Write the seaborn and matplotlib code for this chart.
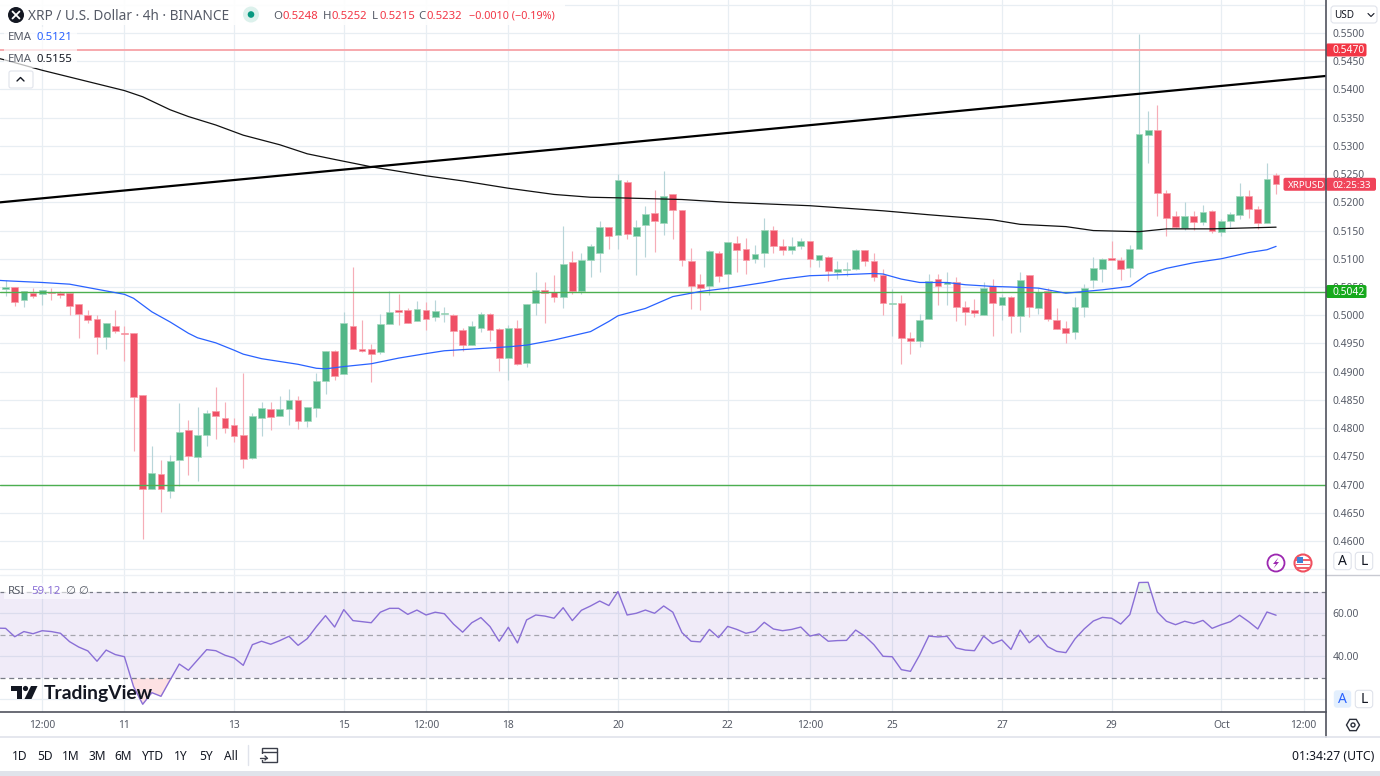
import matplotlib
matplotlib.use("Agg")
import matplotlib.pyplot as plt
import numpy as np
import seaborn as sns
from matplotlib.lines import Line2D
from matplotlib.patches import Circle, FancyBboxPatch, Polygon, Rectangle

# 4h candles
opens = [
    0.5046, 0.5050, 0.5027, 0.5040, 0.5038, 0.5042, 0.5040, 0.5039, 0.5020, 0.5000,
    0.4994, 0.4962, 0.4981, 0.4969, 0.4968, 0.4858, 0.4692, 0.4719, 0.4689, 0.4743,
    0.4796, 0.4749, 0.4788, 0.4830, 0.4818, 0.4805, 0.4788, 0.4747, 0.4817, 0.4834,
    0.4822, 0.4833, 0.4850, 0.4813, 0.4836, 0.4883, 0.4936, 0.4896, 0.4981, 0.4940,
    0.4940, 0.4934, 0.4985, 0.5010, 0.5009, 0.4990, 0.5009, 0.4996, 0.5003, 0.5000,
    0.4974, 0.4947, 0.4977, 0.5002, 0.4976, 0.4925, 0.4978, 0.4915, 0.5022, 0.5045,
    0.5042, 0.5033, 0.5094, 0.5043, 0.5098, 0.5110, 0.5156, 0.5142, 0.5236, 0.5140,
    0.5160, 0.5181, 0.5164, 0.5215, 0.5187, 0.5096, 0.5055, 0.5052, 0.5110, 0.5073,
    0.5128, 0.5117, 0.5100, 0.5110, 0.5151, 0.5123, 0.5115, 0.5123, 0.5132, 0.5097,
    0.5104, 0.5077, 0.5080, 0.5081, 0.5115, 0.5096, 0.5072, 0.5019, 0.5021, 0.4960,
    0.4954, 0.4994, 0.5065, 0.5055, 0.5058, 0.5015, 0.5009, 0.5001, 0.5052, 0.5018,
    0.5032, 0.4999, 0.5071, 0.5012, 0.5043, 0.4991, 0.4977, 0.4970, 0.5014, 0.5062,
    0.5082, 0.5101, 0.5097, 0.5084, 0.5117, 0.5320, 0.5328, 0.5217, 0.5175, 0.5154,
    0.5175, 0.5166, 0.5185, 0.5148, 0.5167, 0.5178, 0.5212, 0.5189, 0.5164, 0.5248,
]
highs = [
    0.5063, 0.5050, 0.5043, 0.5048, 0.5045, 0.5048, 0.5043, 0.5039, 0.5020, 0.5009,
    0.5000, 0.4986, 0.5009, 0.4981, 0.4968, 0.4858, 0.4769, 0.4743, 0.4752, 0.4844,
    0.4814, 0.4838, 0.4832, 0.4873, 0.4847, 0.4817, 0.4897, 0.4826, 0.4846, 0.4847,
    0.4856, 0.4869, 0.4856, 0.4838, 0.4897, 0.4936, 0.4939, 0.5006, 0.5086, 0.4992,
    0.4949, 0.5002, 0.5043, 0.5038, 0.5012, 0.5025, 0.5023, 0.5027, 0.5015, 0.5002,
    0.4978, 0.4990, 0.5005, 0.5004, 0.4978, 0.4983, 0.4992, 0.5019, 0.5076, 0.5058,
    0.5071, 0.5158, 0.5114, 0.5110, 0.5127, 0.5167, 0.5156, 0.5251, 0.5240, 0.5168,
    0.5194, 0.5222, 0.5256, 0.5215, 0.5187, 0.5119, 0.5073, 0.5116, 0.5113, 0.5130,
    0.5140, 0.5136, 0.5125, 0.5172, 0.5158, 0.5135, 0.5139, 0.5136, 0.5132, 0.5106,
    0.5105, 0.5096, 0.5095, 0.5117, 0.5115, 0.5110, 0.5081, 0.5046, 0.5035, 0.4970,
    0.5002, 0.5073, 0.5073, 0.5076, 0.5067, 0.5025, 0.5029, 0.5058, 0.5064, 0.5038,
    0.5034, 0.5076, 0.5071, 0.5048, 0.5048, 0.5012, 0.4990, 0.5032, 0.5056, 0.5104,
    0.5102, 0.5132, 0.5104, 0.5124, 0.5498, 0.5362, 0.5372, 0.5222, 0.5185, 0.5201,
    0.5185, 0.5195, 0.5186, 0.5170, 0.5183, 0.5234, 0.5222, 0.5193, 0.5270, 0.5252,
]
lows = [
    0.5034, 0.5016, 0.5015, 0.5031, 0.5018, 0.5027, 0.5031, 0.5000, 0.4959, 0.4987,
    0.4931, 0.4941, 0.4969, 0.4919, 0.4759, 0.4604, 0.4692, 0.4651, 0.4677, 0.4698,
    0.4716, 0.4706, 0.4769, 0.4781, 0.4791, 0.4776, 0.4730, 0.4746, 0.4786, 0.4797,
    0.4822, 0.4805, 0.4799, 0.4802, 0.4819, 0.4860, 0.4885, 0.4896, 0.4940, 0.4935,
    0.4882, 0.4932, 0.4985, 0.4983, 0.4986, 0.4990, 0.4973, 0.4990, 0.4988, 0.4928,
    0.4937, 0.4947, 0.4970, 0.4954, 0.4902, 0.4886, 0.4911, 0.4909, 0.5000, 0.4987,
    0.5023, 0.5012, 0.5038, 0.5037, 0.5067, 0.5077, 0.5117, 0.5117, 0.5135, 0.5071,
    0.5104, 0.5112, 0.5142, 0.5135, 0.5087, 0.5011, 0.5009, 0.5035, 0.5059, 0.5045,
    0.5076, 0.5073, 0.5092, 0.5086, 0.5111, 0.5106, 0.5109, 0.5117, 0.5086, 0.5086,
    0.5061, 0.5065, 0.5070, 0.5080, 0.5087, 0.5060, 0.5000, 0.4964, 0.4914, 0.4932,
    0.4943, 0.4994, 0.5018, 0.5018, 0.4990, 0.4983, 0.4996, 0.5001, 0.4964, 0.4992,
    0.4968, 0.4970, 0.4996, 0.5002, 0.4989, 0.4976, 0.4950, 0.4958, 0.4996, 0.5049,
    0.5058, 0.5097, 0.5062, 0.5068, 0.5117, 0.5270, 0.5176, 0.5140, 0.5154, 0.5151,
    0.5151, 0.5160, 0.5146, 0.5140, 0.5157, 0.5170, 0.5173, 0.5152, 0.5164, 0.5215,
]
closes = [
    0.5050, 0.5024, 0.5043, 0.5034, 0.5045, 0.5040, 0.5036, 0.5017, 0.5002, 0.4991,
    0.4962, 0.4986, 0.4972, 0.4967, 0.4855, 0.4692, 0.4720, 0.4692, 0.4741, 0.4793,
    0.4750, 0.4788, 0.4827, 0.4822, 0.4800, 0.4786, 0.4746, 0.4821, 0.4835, 0.4820,
    0.4834, 0.4850, 0.4813, 0.4838, 0.4883, 0.4936, 0.4893, 0.4986, 0.4941, 0.4937,
    0.4932, 0.4984, 0.5006, 0.5006, 0.4987, 0.5011, 0.4994, 0.5007, 0.5004, 0.4972,
    0.4948, 0.4981, 0.5002, 0.4974, 0.4925, 0.4977, 0.4914, 0.5019, 0.5045, 0.5040,
    0.5033, 0.5091, 0.5043, 0.5097, 0.5123, 0.5156, 0.5140, 0.5239, 0.5144, 0.5157,
    0.5180, 0.5167, 0.5212, 0.5186, 0.5097, 0.5052, 0.5049, 0.5114, 0.5070, 0.5130,
    0.5115, 0.5097, 0.5109, 0.5151, 0.5123, 0.5116, 0.5122, 0.5132, 0.5099, 0.5106,
    0.5078, 0.5081, 0.5082, 0.5115, 0.5096, 0.5068, 0.5021, 0.5021, 0.4960, 0.4954,
    0.4992, 0.5060, 0.5052, 0.5058, 0.5014, 0.5006, 0.5004, 0.5048, 0.5021, 0.5032,
    0.4999, 0.5062, 0.5014, 0.5042, 0.4994, 0.4976, 0.4969, 0.5014, 0.5049, 0.5084,
    0.5100, 0.5097, 0.5081, 0.5118, 0.5321, 0.5328, 0.5217, 0.5172, 0.5157, 0.5175,
    0.5166, 0.5182, 0.5149, 0.5167, 0.5180, 0.5212, 0.5189, 0.5164, 0.5242, 0.5232,
]

# EMA lines, read at the bars where they bend
ema50_bars = [-1, 0, 4, 7, 10, 13, 14, 16, 18, 20, 21, 23, 25, 26, 28, 30, 32, 34, 35, 37, 40, 43,
              46, 48, 52, 55, 57, 60, 64, 66, 67, 70, 73, 76, 79, 83, 85, 88, 92, 95, 96, 98,
              100, 103, 105, 108, 110, 113, 115, 116, 118, 120, 123, 125, 127, 130, 133, 136,
              138, 139]
ema50_vals = [0.5062, 0.5061, 0.5058, 0.5055, 0.5046, 0.5037, 0.5030, 0.5006, 0.4988, 0.4968, 0.4960,
              0.4951, 0.4938, 0.4931, 0.4923, 0.4918, 0.4913, 0.4906, 0.4905, 0.4909, 0.4914,
              0.4924, 0.4932, 0.4937, 0.4941, 0.4944, 0.4947, 0.4956, 0.4971, 0.4989, 0.4999,
              0.5012, 0.5033, 0.5042, 0.5048, 0.5058, 0.5064, 0.5070, 0.5072, 0.5074, 0.5073,
              0.5064, 0.5058, 0.5058, 0.5054, 0.5051, 0.5050, 0.5048, 0.5042, 0.5039, 0.5042,
              0.5045, 0.5051, 0.5073, 0.5083, 0.5093, 0.5100, 0.5111, 0.5116, 0.5122]
ema200_bars = [-1, 0, 4, 8, 13, 15, 18, 20, 23, 26, 30, 33, 36, 40, 46, 50, 55, 60, 64, 67, 74, 79, 88,
               96, 101, 108, 111, 116, 119, 124, 127, 132, 139]
ema200_vals = [0.5456, 0.5452, 0.5434, 0.5418, 0.5398, 0.5387, 0.5364, 0.5352, 0.5337, 0.5319,
               0.5302, 0.5286, 0.5276, 0.5263, 0.5247, 0.5238, 0.5225, 0.5214, 0.5209, 0.5208,
               0.5205, 0.5200, 0.5194, 0.5185, 0.5178, 0.5169, 0.5161, 0.5157, 0.5150, 0.5148,
               0.5153, 0.5153, 0.5156]

# RSI, one value per bar, first one is the bar just left of the pane
rsi_vals = [
    53.1,
    53.0, 49.1, 51.5, 50.5, 51.9, 51.5, 50.7, 46.8, 44.3, 42.5, 37.7, 42.9, 40.8, 39.8, 25.9,
    17.7, 23.1, 21.4, 29.0, 36.4, 33.5, 38.3, 43.1, 42.6, 40.5, 39.2, 35.8, 45.4, 47.0, 45.6,
    47.3, 49.3, 45.1, 48.2, 53.8, 58.9, 53.6, 61.7, 56.6, 56.1, 55.6, 60.5, 62.3, 62.3, 59.5,
    61.5, 59.2, 60.5, 59.8, 55.0, 51.2, 55.6, 58.0, 53.8, 47.0, 53.5, 46.2, 56.9, 59.2, 58.7,
    57.7, 62.6, 56.6, 61.4, 63.4, 65.7, 63.6, 70.1, 59.2, 60.0, 61.5, 60.0, 63.4, 60.5, 51.0,
    47.0, 46.7, 52.5, 48.7, 53.9, 52.5, 50.7, 51.6, 55.8, 52.7, 51.9, 52.5, 53.6, 49.4, 50.4,
    47.0, 47.3, 47.4, 52.2, 49.4, 45.4, 40.0, 39.8, 33.8, 33.0, 40.6, 49.4, 49.0, 49.3, 43.9,
    42.9, 42.6, 49.4, 45.9, 47.6, 43.2, 52.2, 46.3, 49.8, 44.5, 42.3, 41.7, 48.1, 52.7, 56.4,
    58.1, 57.7, 55.0, 59.4, 74.3, 74.4, 60.6, 56.3, 54.7, 56.3, 55.2, 56.7, 53.0, 54.7, 56.1,
    59.1, 56.1, 52.7, 60.6, 59.1,
]

# the rising trend line and the horizontal levels
trend_bars = [-0.6, 144.5]
trend_vals = [0.5200, 0.5424]
resistance_level = 0.5470
pivot_level = 0.5042
support_level = 0.4700

time_tick_bars = [4, 13, 25, 37, 46, 55, 67, 79, 88, 97, 109, 121, 133, 142]
time_tick_labels = ["12:00", "11", "13", "15", "12:00", "18", "20", "22", "12:00", "25", "27",
                    "29", "Oct", "12:00"]
price_ticks = [0.455, 0.46, 0.465, 0.47, 0.475, 0.48, 0.485, 0.49, 0.495, 0.50, 0.505, 0.51,
               0.515, 0.52, 0.525, 0.53, 0.535, 0.54, 0.545, 0.55, 0.555]
rsi_ticks = [20, 40, 60]
range_buttons = ["1D", "5D", "1M", "3M", "6M", "YTD", "1Y", "5Y", "All"]

RED = "#ef5066"
GREEN = "#52b788"
GRID = "#e8eef3"
TEXT = "#555a66"
DARK = "#131722"
AXIS_SIZE = 7.4

sns.set_theme(style="white")
plt.rcParams["font.family"] = ["Noto Sans", "DejaVu Sans"]

W, H = 1380, 776
fig = plt.figure(figsize=(W / 100, H / 100), dpi=100, facecolor="white")
ax = fig.add_axes([0, 1 - 575 / H, 1326 / W, 575 / H])
ax_rsi = fig.add_axes([0, 1 - 712 / H, 1326 / W, 137 / H], sharex=ax)

bars = np.arange(len(opens))
o, h, l, c = map(np.array, (opens, highs, lows, closes))
up = c >= o

# candles
ax.vlines(bars[up], l[up], h[up], color="#b8d5d9", lw=0.85, zorder=3)
ax.vlines(bars[~up], l[~up], h[~up], color="#f6adb7", lw=0.85, zorder=3)
ax.bar(bars[up], np.maximum(np.abs(c - o)[up], 0.0001), bottom=np.minimum(o, c)[up], width=0.74,
       color=GREEN, edgecolor="#a4d8be", lw=0.5, zorder=4)
ax.bar(bars[~up], np.maximum(np.abs(c - o)[~up], 0.0001), bottom=np.minimum(o, c)[~up], width=0.74,
       color=RED, edgecolor="#f89ea9", lw=0.5, zorder=4)

# levels and lines
ax.axhline(resistance_level, color="#f7a9ad", lw=1.4, zorder=5)
ax.axhline(pivot_level, color="#4caf50", lw=1.0, zorder=5)
ax.axhline(support_level, color="#4caf50", lw=1.0, zorder=5)
sns.lineplot(x=ema50_bars, y=ema50_vals, ax=ax, color="#2962ff", lw=0.9, zorder=6, errorbar=None)
sns.lineplot(x=ema200_bars, y=ema200_vals, ax=ax, color="#111111", lw=0.9, zorder=6, errorbar=None)
sns.lineplot(x=trend_bars, y=trend_vals, ax=ax, color="#000000", lw=1.6, zorder=6, errorbar=None)

ax.set_xlim(-0.613, 144.46)
ax.set_ylim(0.45397, 0.55585)
ax.yaxis.tick_right()
ax.set_yticks(price_ticks)
ax.set_yticklabels(["" if t in (0.455, 0.555) else f"{t:.4f}" for t in price_ticks],
                   fontsize=AXIS_SIZE, color=TEXT)
ax.set_xticks(time_tick_bars)
ax.tick_params(axis="x", length=0, labelbottom=False)
ax.tick_params(axis="y", length=0, pad=4.8)
ax.grid(True, color=GRID, lw=0.9, zorder=0)
ax.set_axisbelow(True)
for side in ax.spines:
    ax.spines[side].set_visible(False)
ax.set_xlabel("")
ax.set_ylabel("")

# RSI pane
rsi = np.array(rsi_vals, dtype=float)
rsi_bars = np.arange(-1, len(opens))
ax_rsi.axhspan(30, 70, color="#7e57c2", alpha=0.115, zorder=1, lw=0)
ax_rsi.fill_between(rsi_bars, rsi, 30, where=rsi < 30, interpolate=True, color="#fde1e3", lw=0, zorder=2)
ax_rsi.fill_between(rsi_bars, rsi, 70, where=rsi > 70, interpolate=True, color="#e9f4ec", lw=0, zorder=2)
ax_rsi.axhline(70, color="#787b86", lw=0.9, ls=(0, (4, 3)), zorder=3)
ax_rsi.axhline(50, color="#a5a5ad", lw=0.9, ls=(0, (4, 3)), zorder=3)
ax_rsi.axhline(30, color="#787b86", lw=0.9, ls=(0, (4, 3)), zorder=3)
sns.lineplot(x=rsi_bars, y=rsi, ax=ax_rsi, color="#8a6fd6", lw=1.0, zorder=4, errorbar=None)
ax_rsi.set_xlim(-0.613, 144.46)
ax_rsi.set_ylim(14.1, 77.8)
ax_rsi.yaxis.tick_right()
ax_rsi.set_yticks(rsi_ticks)
ax_rsi.set_yticklabels(["", "40.00", "60.00"], fontsize=AXIS_SIZE, color=TEXT)
ax_rsi.set_xticks(time_tick_bars)
ax_rsi.set_xticklabels(time_tick_labels, fontsize=AXIS_SIZE, color=TEXT)
ax_rsi.get_xticklabels()[12].set_fontweight("bold")
ax_rsi.tick_params(axis="x", length=0, pad=6)
ax_rsi.tick_params(axis="y", length=0, pad=4.8)
ax_rsi.grid(True, color=GRID, lw=0.9, zorder=0)
ax_rsi.set_axisbelow(True)
for side in ("top", "left", "right"):
    ax_rsi.spines[side].set_visible(False)
ax_rsi.spines["bottom"].set_color("#50535e")
ax_rsi.spines["bottom"].set_linewidth(1.2)
ax_rsi.set_xlabel("")
ax_rsi.set_ylabel("")

# overlay in pixels for the TradingView chrome around the chart
ui = fig.add_axes([0, 0, 1, 1], zorder=10)
ui.set_xlim(0, W)
ui.set_ylim(H, 0)
ui.axis("off")
ui.patch.set_alpha(0)


def label(x, y, s, color=TEXT, size=8.6, ha="left", **kw):
    # va=center sits a little high for these fonts
    return ui.text(x, y + 1.5, s, color=color, fontsize=size, ha=ha, va="center", **kw)


def price_y(value):
    # pixel row of a price on the main pane
    return H - ax.transData.transform((0, value))[1]


def tag(x0, x1, value, text, color, tx, size=7.4, **kw):
    y = price_y(value)
    ui.add_patch(FancyBboxPatch((x0, y - 6.5), x1 - x0, 13, boxstyle="round,pad=0,rounding_size=2",
                                fc=color, ec="none"))
    label(tx, y - 0.5, text, color="white", size=size, **kw)


def ab_button(x, y, s, active=False):
    ui.add_patch(FancyBboxPatch((x - 7.5, y - 7.5), 15, 15, boxstyle="round,pad=1.2,rounding_size=3",
                                fc="#e3effd" if active else "white",
                                ec="none" if active else "#e0e3eb", lw=0.8))
    label(x, y - 1, s, color="#2962ff" if active else DARK, size=10, ha="center")


# axis frame
ui.add_line(Line2D([0, 1326], [575, 575], color="#eef1f5", lw=1.0))
ui.add_line(Line2D([1326, W], [575, 575], color="#c8cad2", lw=1.0))
ui.add_line(Line2D([1326, 1326], [0, 737], color="#50535e", lw=1.2))
ui.add_line(Line2D([0, W], [737, 737], color="#e0e3eb", lw=1.2))
ui.add_patch(Rectangle((0, 771), W, 5, fc="#e0e3eb", ec="none"))

# price tags on the axis
tag(1326, 1366.5, resistance_level, f"{resistance_level:.4f}", "#f23645", 1332.5, fontweight="bold")
tag(1326, 1366.5, pivot_level, f"{pivot_level:.4f}", "#16a91c", 1332.5, fontweight="bold")
tag(1283.5, 1326, closes[-1], "XRPUSD", "#f0445a", 1287.5, size=7.0)
tag(1326, 1376, closes[-1], "02:25:33", "#f0445a", 1332.5, size=7.0)

# header row
ui.add_patch(Rectangle((0, 0), 565, 25, fc="white", ec="none", alpha=0.9))
ui.add_patch(Circle((16, 15), 8, fc="#131722", ec="none"))
ui.add_line(Line2D([12.5, 19.5], [11.5, 18.5], color="white", lw=1.3))
ui.add_line(Line2D([19.5, 12.5], [11.5, 18.5], color="white", lw=1.3))
label(28, 15, "XRP / U.S. Dollar · 4h · BINANCE", size=9.8)
ui.add_patch(Circle((251, 14.5), 8, fc="#dcf1ec", ec="none"))
ui.add_patch(Circle((251, 14.5), 3.3, fc="#089981", ec="none"))
for x, letter, vx, val in [(273.3, "O", 282.7, "0.5248"), (322.7, "H", 331.7, "0.5252"),
                           (371.7, "L", 379, "0.5215"), (418.3, "C", 426.7, "0.5232")]:
    label(x, 15, letter, size=8.2)
    label(vx, 15, val, color="#f23645", size=8.2)
label(469, 15, "−0.0010 (−0.19%)", color="#f23645", size=7.8)

# indicator legend
ui.add_patch(Rectangle((4, 27), 73, 41, fc="white", ec="none", alpha=0.7))
label(8, 36, "EMA", size=8.2)
label(36.5, 36, "0.5121", color="#2962ff", size=8.2)
label(8, 58, "EMA", size=8.2)
label(36.5, 58, "0.5155", color=DARK, size=8.2)
ui.add_patch(FancyBboxPatch((9, 71), 24, 17, boxstyle="round,pad=0,rounding_size=2", fc="white", ec="#e0e3eb", lw=0.8))
ui.add_line(Line2D([17, 20.5, 24], [81, 77.5, 81], color=DARK, lw=1.0))
ui.add_patch(Rectangle((4, 583), 86, 16, fc="white", ec="none", alpha=0.6))
label(8, 590, "RSI", size=8.2)
label(31, 590, "59.12", color="#8a6fd6", size=8.2)
label(65, 590, "∅", size=8.2)
label(78, 590, "∅", size=8.2)

# USD box
ui.add_patch(FancyBboxPatch((1331, 6), 46, 17, boxstyle="round,pad=0,rounding_size=3", fc="white", ec="#e0e3eb", lw=0.8))
label(1334, 14, "USD", color=DARK, size=7.2)
ui.add_line(Line2D([1368, 1371, 1374], [13.5, 16.5, 13.5], color=DARK, lw=0.8))

# A / L buttons
ab_button(1342.5, 561, "A")
ab_button(1364, 561, "L")
ab_button(1342.5, 699, "A", active=True)
ab_button(1364, 699, "L")

# event icons
ui.add_patch(Circle((1276, 563), 8.5, fc="white", ec="#9c27b0", lw=1.3))
ui.add_patch(Polygon([(1278.5, 557.5), (1273, 564), (1276, 564), (1273.5, 568.5), (1279, 562), (1276, 562)],
                     fc="#9c27b0", ec="none"))
ui.add_patch(Circle((1303, 563), 8.5, fc="white", ec="#f0505f", lw=1.5))
for yy in (560, 564.5, 568):
    ui.add_patch(Rectangle((1296, yy - 0.8), 14, 1.7, fc="#f0616f", ec="none"))
ui.add_patch(Rectangle((1296.5, 557), 6.5, 5.5, fc="#3f84d8", ec="none"))

# TradingView mark
ui.add_patch(Polygon([(11, 686), (22, 686), (22, 699), (17, 699), (17, 691), (11, 691)], fc=DARK, ec="none"))
ui.add_patch(Circle((25.5, 688.5), 2.6, fc=DARK, ec="none"))
ui.add_patch(Polygon([(31, 686), (37.5, 686), (31.5, 699), (24.5, 699)], fc=DARK, ec="none"))
ui.text(44, 693, "TradingView", color=DARK, fontsize=13.9, fontweight="bold", family=["Lato", "DejaVu Sans"],
        ha="left", va="center")

# bottom toolbar
for x, s in zip([20, 45, 71, 97, 123, 153, 181, 206, 231], range_buttons):
    label(x, 754.5, s, color=DARK, size=8.6, ha="center")
ui.add_line(Line2D([248, 248], [745, 765], color="#e0e3eb", lw=1.0))
ui.add_patch(Rectangle((262, 748), 15, 14, fc="none", ec="#3b3e4a", lw=1.0))
ui.add_patch(Rectangle((258, 754), 9, 6, fc="white", ec="none"))
ui.add_line(Line2D([262, 277], [752, 752], color="#3b3e4a", lw=1.0))
ui.add_line(Line2D([260, 267], [758, 758], color="#3b3e4a", lw=1.0))
ui.add_line(Line2D([265, 267, 265], [756, 758, 760], color="#3b3e4a", lw=1.0))
label(1374, 754.5, "01:34:27 (UTC)", color=DARK, size=8.8, ha="right")

# settings icon
angles = np.deg2rad(np.arange(0, 360, 60))
ui.add_patch(Polygon(np.column_stack([1353 + 6.5 * np.cos(angles), 725 + 6.5 * np.sin(angles)]),
                     fc="white", ec="#2a2e39", lw=1.0))
ui.add_patch(Circle((1353, 725), 2, fc="white", ec="#2a2e39", lw=1.0))

fig.savefig("out.png", dpi=100, facecolor="white")
